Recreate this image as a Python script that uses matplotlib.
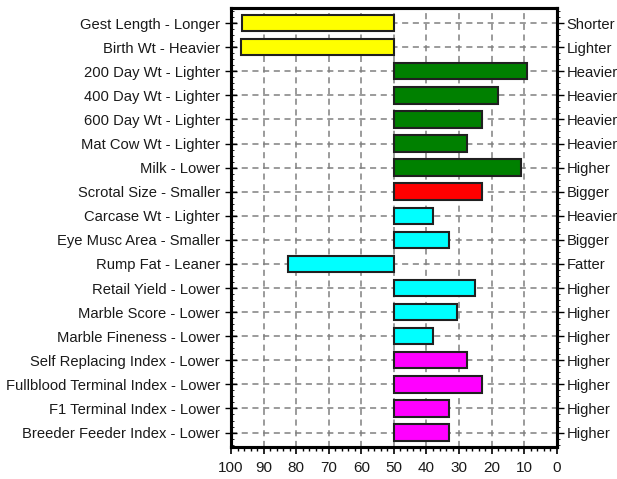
import numpy as np
import matplotlib
matplotlib.use("Agg")
from matplotlib import pyplot as plt
from matplotlib.ticker import MultipleLocator

plt.rcParams['font.family'] = ['Liberation Sans', 'DejaVu Sans']

left_labels = ["Gest Length - Longer", "Birth Wt - Heavier", "200 Day Wt - Lighter",
               "400 Day Wt - Lighter", "600 Day Wt - Lighter", "Mat Cow Wt - Lighter",
               "Milk - Lower", "Scrotal Size - Smaller", "Carcase Wt - Lighter",
               "Eye Musc Area - Smaller", "Rump Fat - Leaner", "Retail Yield - Lower",
               "Marble Score - Lower", "Marble Fineness - Lower", "Self Replacing Index - Lower",
               "Fullblood Terminal Index - Lower", "F1 Terminal Index - Lower",
               "Breeder Feeder Index - Lower"]
right_labels = ["Shorter", "Lighter", "Heavier", "Heavier", "Heavier", "Heavier",
                "Higher", "Bigger", "Heavier", "Bigger", "Fatter", "Higher",
                "Higher", "Higher", "Higher", "Higher", "Higher", "Higher"]
values = [96.5, 97, 9, 18, 23, 27.5, 11, 23, 38, 33, 82.5, 25,
          30.5, 38, 27.5, 23, 33, 33]
colors = ["#FFFF00", "#FFFF00", "#008000", "#008000", "#008000", "#008000",
          "#008000", "#FF0000", "#00FFFF", "#00FFFF", "#00FFFF", "#00FFFF",
          "#00FFFF", "#00FFFF", "#FF00FF", "#FF00FF", "#FF00FF", "#FF00FF"]
base = 50

fig = plt.figure(figsize=(6.17, 4.79), dpi=100)
ax = fig.add_axes([0.3744, 0.0668, 0.528, 0.9162])

y = np.arange(len(values))
ax.barh(y, np.array(values) - base, left=base, height=0.68, color=colors,
        edgecolor="#202020", linewidth=1.5, zorder=3)

ax.set_xlim(100, 0)
ax.set_ylim(len(values) - 0.4, -0.62)
ax.xaxis.set_major_locator(MultipleLocator(10))
ax.xaxis.set_minor_locator(MultipleLocator(2))
ax.set_yticks(y)
ax.set_yticklabels(left_labels, fontsize=10.6, color="#1a1a1a")
ax.yaxis.set_minor_locator(MultipleLocator(0.25))
ax.tick_params(axis='x', which='major', direction='out', length=5, width=1.2,
               labelsize=11, pad=5, labelcolor="#1a1a1a")
ax.tick_params(axis='x', which='minor', direction='out', length=3, width=1)
ax.tick_params(axis='y', which='major', direction='inout', length=8, width=1, pad=4)
ax.tick_params(axis='y', which='minor', direction='in', length=2, width=0.6)
ax.grid(True, which='major', color='#808080', linestyle=(0, (4, 3)), linewidth=1.1, zorder=0)
ax.set_axisbelow(True)
for s in ax.spines.values():
    s.set_linewidth(2.2)

ax2 = ax.twinx()
ax2.set_ylim(ax.get_ylim())
ax2.set_yticks(y)
ax2.set_yticklabels(right_labels, fontsize=10.6, color="#1a1a1a")
ax2.yaxis.set_minor_locator(MultipleLocator(0.25))
ax2.tick_params(axis='y', which='major', direction='out', length=5, width=1, pad=2)
ax2.tick_params(axis='y', which='minor', direction='out', length=2, width=0.6)
for s in ax2.spines.values():
    s.set_linewidth(2.2)

fig.savefig("out.png", dpi=100)
